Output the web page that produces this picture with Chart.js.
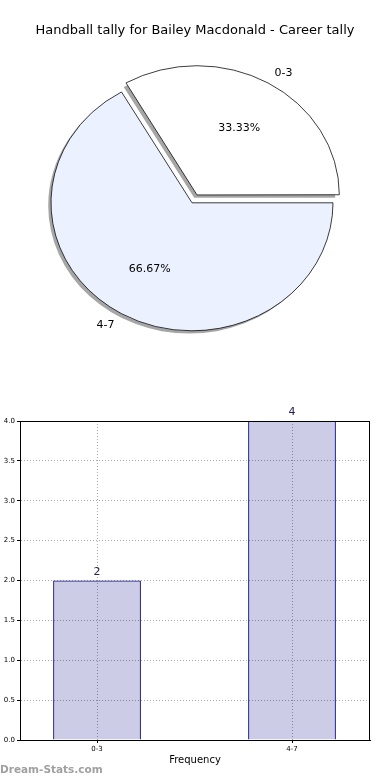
<!DOCTYPE html>
<html><head><meta charset="utf-8">
<script src="https://cdn.jsdelivr.net/npm/chart.js@4"></script>
<style>
html,body{margin:0;padding:0;background:#fff;width:390px;height:780px;overflow:hidden;}
#pieWrap{position:absolute;left:0;top:0;width:390px;height:370px;}
#barWrap{position:absolute;left:0;top:400px;width:390px;height:380px;}
</style></head><body>
<div id="pieWrap"><canvas id="pie" width="390" height="370"></canvas></div>
<div id="barWrap"><canvas id="bar" width="390" height="380"></canvas></div>
<script>
const titleText = 'Handball tally for Bailey Macdonald - Career tally';
const categories = ['0-3', '4-7'];
const counts = [2, 4];
const pieColors = ['#ffffff', '#ebf1ff'];
const explode = [40, 0];
const yTicks = [0, 0.5, 1, 1.5, 2, 2.5, 3, 3.5, 4];
const FONT = "'DejaVu Sans', sans-serif";
const YSCALE = 128 / 141;
const PIE_SHIFT_X = -3;

const total = counts.reduce((a, b) => a + b, 0);

const ellipsePlugin = {
  id: 'ellipse',
  beforeDatasetsDraw(chart) {
    const ctx = chart.ctx;
    const meta = chart.getDatasetMeta(0);
    const cy = meta.data[0].y;
    ctx.save();
    ctx.translate(PIE_SHIFT_X, cy);
    ctx.scale(1, YSCALE);
    ctx.translate(0, -cy);
    // shadow
    ctx.save();
    ctx.fillStyle = 'rgba(77,77,77,0.5)';
    meta.data.forEach(el => {
      const off = (el.options.offset || 0) / 4;
      const mid = (el.startAngle + el.endAngle) / 2;
      const x = el.x + Math.cos(mid) * off - 2.8;
      const y = el.y + Math.sin(mid) * off + 2.8 / YSCALE;
      ctx.beginPath();
      ctx.moveTo(x, y);
      ctx.arc(x, y, el.outerRadius, el.startAngle, el.endAngle);
      ctx.closePath();
      ctx.fill();
    });
    ctx.restore();
  },
  afterDatasetsDraw(chart) {
    const ctx = chart.ctx;
    ctx.restore();
    const meta = chart.getDatasetMeta(0);
    ctx.save();
    ctx.fillStyle = '#000';
    ctx.font = '11px ' + FONT;
    ctx.textBaseline = 'middle';
    meta.data.forEach((el, i) => {
      const off = (el.options.offset || 0) / 4;
      const mid = (el.startAngle + el.endAngle) / 2;
      const cx = el.x + PIE_SHIFT_X + Math.cos(mid) * off;
      const cy = el.y + Math.sin(mid) * off * YSCALE;
      const r = el.outerRadius;
      const pct = (counts[i] / total * 100).toFixed(2) + '%';
      ctx.textAlign = 'center';
      ctx.fillText(pct, cx + Math.cos(mid) * r * 0.6, cy + Math.sin(mid) * r * 0.6 * YSCALE);
      const lx = cx + Math.cos(mid) * r * 1.1;
      const ly = cy + Math.sin(mid) * r * 1.1 * YSCALE;
      ctx.textAlign = Math.cos(mid) >= 0 ? 'left' : 'right';
      ctx.fillText(categories[i], lx, ly);
    });
    ctx.restore();
  }
};

new Chart(document.getElementById('pie'), {
  type: 'pie',
  data: {
    labels: categories,
    datasets: [{
      data: counts,
      backgroundColor: pieColors,
      borderColor: '#000',
      borderWidth: 0.8,
      offset: explode
    }]
  },
  options: {
    responsive: false,
    animation: false,
    events: [],
    rotation: 330,
    radius: 141,
    layout: { padding: { left: 0, right: 0, top: 0, bottom: 14 } },
    plugins: {
      legend: { display: false },
      tooltip: { enabled: false },
      title: {
        display: true,
        text: titleText,
        color: '#000',
        font: { family: FONT, size: 13, weight: 'normal' },
        padding: { top: 23, bottom: 11 }
      }
    }
  },
  plugins: [ellipsePlugin]
});

const boxPlugin = {
  id: 'box',
  afterDraw(chart) {
    const { ctx, chartArea: a } = chart;
    ctx.save();
    ctx.strokeStyle = '#000';
    ctx.lineWidth = 1;
    ctx.strokeRect(Math.round(a.left) + 0.5, Math.round(a.top) + 0.5, Math.round(a.right - a.left) - 1, Math.round(a.bottom - a.top));
    // value labels
    const meta = chart.getDatasetMeta(0);
    ctx.fillStyle = '#222255';
    ctx.font = '11px ' + FONT;
    ctx.textAlign = 'center';
    ctx.textBaseline = 'bottom';
    meta.data.forEach((el, i) => {
      ctx.fillText(String(counts[i]), el.x, el.y - 3);
    });
    // watermark
    ctx.fillStyle = '#a0a0a0';
    ctx.font = 'bold 10.5px ' + FONT;
    ctx.textAlign = 'left';
    ctx.textBaseline = 'middle';
    ctx.fillText('Dream-Stats.com', 0, 370);
    ctx.restore();
  }
};

new Chart(document.getElementById('bar'), {
  type: 'bar',
  data: {
    datasets: [{
      data: categories.map((c, i) => ({ x: i, y: counts[i] })),
      backgroundColor: 'rgba(0,0,128,0.2)',
      borderColor: '#000080',
      borderWidth: 1,
      categoryPercentage: 1,
      barPercentage: 0.45
    }]
  },
  options: {
    responsive: false,
    animation: false,
    events: [],
    layout: { padding: { left: 0, right: 20, top: 21, bottom: 0 } },
    plugins: { legend: { display: false }, tooltip: { enabled: false } },
    scales: {
      x: {
        type: 'linear',
        min: -0.395,
        max: 1.4,
        offset: false,
        afterBuildTicks(s) { s.ticks = categories.map((c, i) => ({ value: i })); },
        afterFit(s) { s.height = 40; },
        ticks: {
          callback: v => categories[v],
          color: '#000',
          font: { family: FONT, size: 7 },
          padding: 2,
          maxRotation: 0
        },
        grid: { color: '#a8a8a8', offset: false, tickLength: 3, tickColor: '#000', lineWidth: 1 },
        border: { display: true, color: '#000', dash: [1, 2] },
        title: {
          display: true,
          text: 'Frequency',
          color: '#000',
          font: { family: FONT, size: 10 },
          padding: { top: 0, bottom: 14 }
        }
      },
      y: {
        min: 0,
        max: 4,
        afterBuildTicks(s) { s.ticks = yTicks.map(v => ({ value: v })); },
        afterFit(s) { s.width = 20; },
        ticks: {
          callback: v => Number(v).toFixed(1),
          color: '#000',
          font: { family: FONT, size: 7 },
          padding: 2
        },
        grid: { color: '#a8a8a8', tickLength: 3, tickColor: '#000' },
        border: { display: true, color: '#000', dash: [1, 2] }
      }
    }
  },
  plugins: [boxPlugin]
});
</script>
</body></html>
